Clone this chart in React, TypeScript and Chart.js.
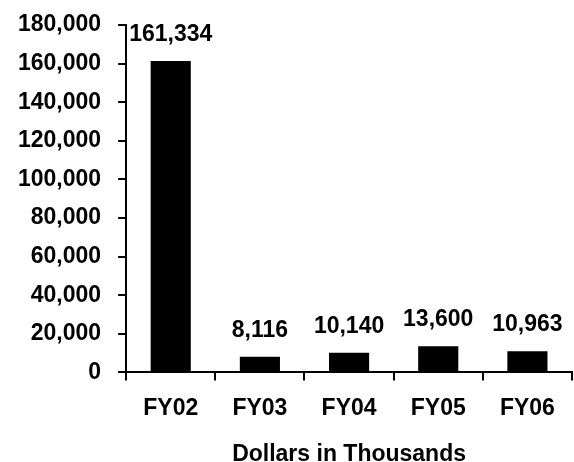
import React, { useEffect, useRef } from "react";
import { Chart, registerables } from "chart.js";

Chart.register(...registerables);

const categories = ["FY02", "FY03", "FY04", "FY05", "FY06"];
const values = [161334, 8116, 10140, 13600, 10963];
const yTicks = [0, 20000, 40000, 60000, 80000, 100000, 120000, 140000, 160000, 180000];
const xTitle = "Dollars in Thousands";

const FONT = "'Liberation Sans', Arial, sans-serif";

const fmt = (v: number) => v.toLocaleString("en-US");

const dataLabelPlugin = {
  id: "dataLabels",
  afterDatasetsDraw(chart: any) {
    const ctx = chart.ctx;
    const meta = chart.getDatasetMeta(0);
    ctx.save();
    ctx.font = `bold 23px ${FONT}`;
    ctx.fillStyle = "#000";
    ctx.textAlign = "center";
    ctx.textBaseline = "bottom";
    meta.data.forEach((bar: any, i: number) => {
      const v = chart.data.datasets[0].data[i] as number;
      ctx.fillText(fmt(v), bar.x, bar.y - 15);
    });
    ctx.restore();
  },
};

export default function App() {
  const ref = useRef<HTMLCanvasElement | null>(null);
  useEffect(() => {
    document.body.style.margin = "0";
    const chart = new Chart(ref.current!, {
      type: "bar",
      data: {
        labels: categories,
        datasets: [
          {
            data: values,
            backgroundColor: "#000",
            borderWidth: 0,
            categoryPercentage: 1,
            barPercentage: 0.45,
          },
        ],
      },
      options: {
        animation: false,
        responsive: false,
        maintainAspectRatio: false,
        layout: { padding: { top: 2, right: 2, left: 1, bottom: 0 } },
        plugins: { legend: { display: false }, tooltip: { enabled: false } },
        scales: {
          x: {
            grid: {
              display: true,
              drawOnChartArea: false,
              drawTicks: true,
              tickLength: 8,
              color: "#000",
              lineWidth: 2,
              offset: true,
            },
            border: { display: true, color: "#000", width: 2 },
            ticks: {
              color: "#000",
              font: { family: FONT, size: 23, weight: "bold" },
              padding: 14,
              maxRotation: 0,
            },
            title: {
              display: true,
              text: xTitle,
              color: "#000",
              font: { family: FONT, size: 23, weight: "bold", lineHeight: 1 },
              padding: { top: 7, bottom: -4 },
            },
          },
          y: {
            min: 0,
            max: 180000,
            afterBuildTicks: (axis: any) => {
              axis.ticks = yTicks.map((v) => ({ value: v }));
            },
            grid: {
              display: true,
              drawOnChartArea: false,
              drawTicks: true,
              tickLength: 8,
              color: "#000",
              lineWidth: 2,
            },
            border: { display: true, color: "#000", width: 2 },
            ticks: {
              color: "#000",
              font: { family: FONT, size: 23, weight: "bold", lineHeight: 0.7 },
              padding: 17,
              callback: (v: any) => fmt(Number(v)),
            },
          },
        },
      },
      plugins: [dataLabelPlugin],
    });
    return () => chart.destroy();
  }, []);
  return (
    <div style={{ width: 574, height: 462 }}>
      <canvas ref={ref} width={574} height={462} style={{ display: "block" }} />
    </div>
  );
}
